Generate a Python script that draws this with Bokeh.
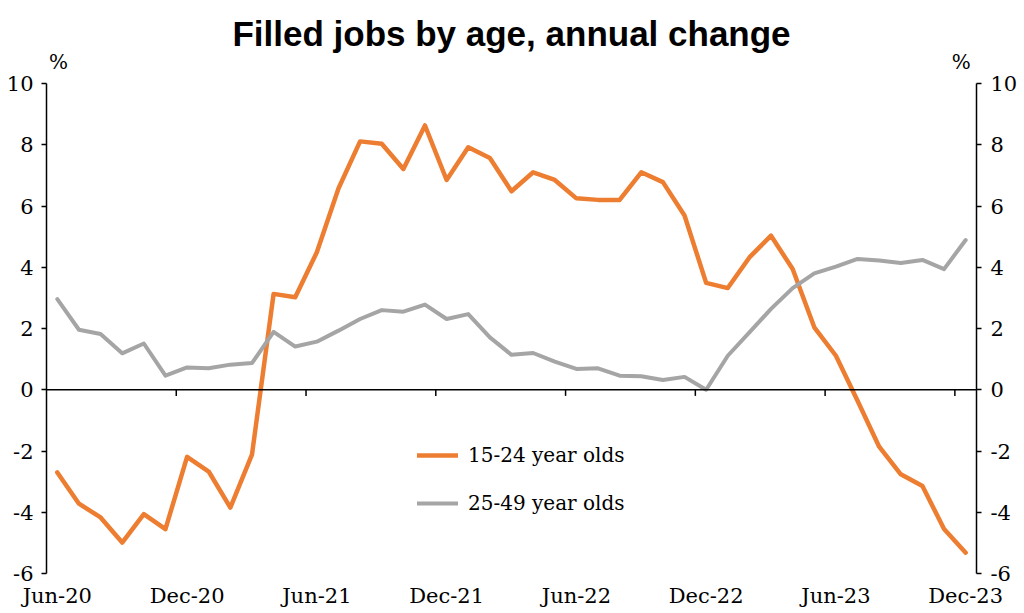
from bokeh.plotting import figure
from bokeh.models import (Range1d, LinearAxis, FixedTicker, Span, Legend, LegendItem,
                          ColumnDataSource)
from bokeh.embed import file_html
from bokeh.resources import INLINE

# Months Jun-20 .. Dec-23 (43 monthly observations)
months = ["Jun-20", "Jul-20", "Aug-20", "Sep-20", "Oct-20", "Nov-20",
          "Dec-20", "Jan-21", "Feb-21", "Mar-21", "Apr-21", "May-21",
          "Jun-21", "Jul-21", "Aug-21", "Sep-21", "Oct-21", "Nov-21",
          "Dec-21", "Jan-22", "Feb-22", "Mar-22", "Apr-22", "May-22",
          "Jun-22", "Jul-22", "Aug-22", "Sep-22", "Oct-22", "Nov-22",
          "Dec-22", "Jan-23", "Feb-23", "Mar-23", "Apr-23", "May-23",
          "Jun-23", "Jul-23", "Aug-23", "Sep-23", "Oct-23", "Nov-23",
          "Dec-23"]

age_15_24 = [-2.70, -3.72, -4.17, -4.99, -4.06, -4.55,
             -2.19, -2.67, -3.85, -2.12, 3.13, 3.02,
             4.49, 6.57, 8.11, 8.03, 7.21, 8.63,
             6.85, 7.92, 7.57, 6.48, 7.10, 6.85,
             6.25, 6.20, 6.20, 7.10, 6.78, 5.69,
             3.49, 3.32, 4.32, 5.03, 3.94, 2.04,
             1.11, -0.36, -1.86, -2.76, -3.14, -4.55,
             -5.32]

age_25_49 = [2.96, 1.96, 1.82, 1.19, 1.51, 0.46,
             0.73, 0.70, 0.82, 0.87, 1.89, 1.41,
             1.57, 1.93, 2.31, 2.60, 2.55, 2.78,
             2.31, 2.47, 1.71, 1.14, 1.20, 0.92,
             0.68, 0.70, 0.46, 0.44, 0.32, 0.42,
             0.00, 1.11, 1.87, 2.64, 3.32, 3.80,
             4.02, 4.27, 4.22, 4.14, 4.24, 3.94,
             4.89]

tick_labels = ["Jun-20", "Dec-20", "Jun-21", "Dec-21", "Jun-22", "Dec-22",
               "Jun-23", "Dec-23"]
y_ticks = [-6, -4, -2, 0, 2, 4, 6, 8, 10]
y_tick_labels = ["-6", "-4", "-2", "0", "2", "4", "6", "8", "10"]
unit_label = "%"

series_names = ["15-24 year olds", "25-49 year olds"]
colors = ["#ED7D31", "#A5A5A5"]

SERIF = "DejaVu Serif"

idx = list(range(len(months)))
label_pos = [months.index(m) for m in tick_labels]
boundary_ticks = [i - 0.5 for i in label_pos[1:]]
x_lo, x_hi = -0.5, len(months) - 0.5

src = ColumnDataSource(dict(x=idx, a=age_15_24, b=age_25_49))

p = figure(width=1024, height=613, output_backend="svg", toolbar_location=None,
           x_range=Range1d(x_lo, x_hi), y_range=Range1d(y_ticks[0], y_ticks[-1]),
           min_border_left=46, min_border_right=48, min_border_top=83,
           min_border_bottom=40, outline_line_color=None,
           title="Filled jobs by age, annual change")

p.title.text_font = "Liberation Sans"
p.title.text_font_style = "bold"
p.title.text_font_size = "35px"
p.title.text_color = "black"
p.title.align = "center"
p.title.standoff = -12

p.xgrid.visible = False
p.ygrid.visible = False


def style_y(ax, standoff):
    ax.ticker = FixedTicker(ticks=y_ticks)
    ax.major_label_overrides = dict(zip(y_ticks, y_tick_labels))
    ax.minor_tick_line_color = None
    ax.major_tick_out = 5
    ax.major_tick_in = 0
    ax.axis_line_width = 1.5
    ax.major_tick_line_width = 1.5
    ax.axis_line_color = "black"
    ax.major_tick_line_color = "black"
    ax.major_label_standoff = standoff
    ax.major_label_text_font = SERIF
    ax.major_label_text_font_size = "21px"
    ax.major_label_text_color = "black"


# bottom axis: labels only
xa = p.xaxis[0]
xa.ticker = FixedTicker(ticks=label_pos)
xa.major_label_overrides = {i: m for i, m in zip(label_pos, tick_labels)}
xa.axis_line_color = None
xa.major_tick_line_color = None
xa.minor_tick_line_color = None
xa.major_tick_out = 0
xa.major_tick_in = 0
xa.major_label_standoff = 10
xa.major_label_text_font = SERIF
xa.major_label_text_font_size = "21px"
xa.major_label_text_color = "black"

# left and right value axes
style_y(p.yaxis[0], 8)
ra = LinearAxis()
style_y(ra, 9)
p.add_layout(ra, "right")

# "%" unit labels above both value axes
unit_pos = [x_lo + 0.55, x_hi - 0.7]
ua = LinearAxis(ticker=FixedTicker(ticks=unit_pos),
                major_label_overrides={v: unit_label for v in unit_pos})
ua.axis_line_color = None
ua.major_tick_line_color = None
ua.minor_tick_line_color = None
ua.major_tick_out = 0
ua.major_tick_in = 0
ua.major_label_standoff = 10
ua.major_label_text_font = SERIF
ua.major_label_text_font_size = "20px"
ua.major_label_text_color = "black"
p.add_layout(ua, "above")

# zero line with category-boundary ticks
p.add_layout(Span(location=0, dimension="width", line_color="black", line_width=1.5))
p.segment(x0=boundary_ticks, x1=boundary_ticks, y0=[0] * len(boundary_ticks),
          y1=[-0.2] * len(boundary_ticks), line_color="black", line_width=1.5)

r1 = p.line("x", "a", source=src, line_color=colors[0], line_width=4.5,
            line_join="round", line_cap="round")
r2 = p.line("x", "b", source=src, line_color=colors[1], line_width=4,
            line_join="round", line_cap="round")

legend = Legend(items=[LegendItem(label=series_names[0], renderers=[r1]),
                       LegendItem(label=series_names[1], renderers=[r2])],
                location=(371, 58), orientation="vertical",
                glyph_width=41, glyph_height=20, label_height=20,
                label_standoff=10, spacing=24, padding=0, margin=0,
                border_line_color=None, background_fill_alpha=0,
                label_text_font=SERIF, label_text_font_size="20px",
                label_text_color="black")
p.add_layout(legend)

open("out.html", "w").write(file_html(p, INLINE))
